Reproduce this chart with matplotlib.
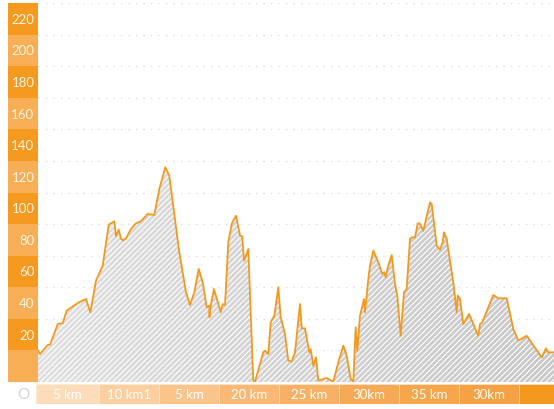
import numpy as np
import matplotlib.pyplot as plt
from matplotlib.colors import LinearSegmentedColormap

# elevation profile (distance units, height)
dist = [0, 2, 9.7, 12, 19.7, 24.7, 28.7, 39.7, 48, 52.3, 58, 64.7, 70.7, 76.3, 78,
        80.7, 83, 85.3, 88, 93, 98, 103, 109.7, 116.3, 121.3, 127.3, 131.3, 141.3,
        148, 152, 156.3, 160.7, 164.7, 168.7, 171.3, 171.5, 172, 176, 182.7, 184.7,
        187, 190.3, 193.7, 198, 202, 204.3, 206, 210.3, 215.3, 217, 225.3, 227,
        230.3, 232.7, 236.3, 240.3, 242.7, 247, 250.3, 253.7, 257, 262, 263.7, 267,
        271.3, 272.7, 275.3, 278, 280.3, 285.3, 288.7, 295.3, 300.3, 305.3, 308.7,
        312.7, 315.3, 317.7, 319.3, 322, 326, 327, 330.3, 332, 335.3, 340.3, 344.3,
        346.3, 347.7, 350.3, 353.7, 357, 359.3, 362.7, 366, 368.7, 372, 373.7, 377,
        379.7, 382, 385.3, 392, 393.7, 398.7, 402, 404.7, 406, 408.7, 415.3, 418.7,
        419.7, 422, 425.3, 431, 440.3, 442, 444.3, 455.3, 460.3, 468.7, 475.3, 480.3,
        488.7, 503.7, 508, 510.3, 516]
height = [19.8, 17.7, 23.4, 23.6, 36.7, 37.2, 45.2, 50.0, 52.6, 44.1, 64.2, 73.7, 99.6,
          101.8, 92.3, 96.5, 90.6, 89.7, 91.0, 96.9, 100.5, 101.8, 106.4, 105.8, 122.2,
          136.0, 130.7, 82.1, 56.8, 48.8, 56.8, 71.6, 63.1, 47.3, 48.3, 41.0, 46.2,
          58.9, 44.1, 49.4, 48.8, 88.5, 100.1, 105.3, 92.7, 92.0, 76.8, 84.2, 0.8, 0.2,
          18.8, 19.8, 17.7, 37.8, 42.0, 60.0, 41.0, 30.4, 13.5, 12.9, 18.8, 49.4, 34.0,
          34.0, 18.8, 20.9, 10.3, 15.6, 0.8, 1.9, 2.5, 0.2, 12.5, 23.0, 16.7, 1.9, 0.2,
          34.6, 19.8, 42.0, 52.6, 44.1, 65.2, 73.7, 83.2, 75.8, 68.4, 69.5, 66.3, 73.7,
          80.4, 62.1, 54.7, 29.3, 56.8, 58.9, 90.6, 91.6, 91.6, 100.5, 100.1, 95.8,
          113.8, 112.7, 86.3, 83.8, 88.5, 94.8, 90.6, 63.1, 44.1, 54.7, 52.6, 36.7,
          43.1, 29.3, 36.7, 37.8, 55.1, 53.0, 53.0, 33.6, 26.2, 29.3, 15.6, 21.3, 18.8,
          18.8]

y_ticks = [0, 20, 40, 60, 80, 100, 120, 140, 160, 180, 200, 220]
seg_labels = ['5 km', '10 km1', '5 km', '20 km', '25 km', '30km', '35 km', '30km', '']
seg_colors = ['#fddcb9', '#fccfa0', '#fbc48a', '#f9b974', '#f8b164', '#f7aa56',
              '#f7a64c', '#f6a244', '#f39a1e']

dark = '#f6991f'
light = '#f8ae55'
orange_line = '#f39a1e'
font = ['Lato', 'DejaVu Sans']

W, H = 554, 410
fig = plt.figure(figsize=(W / 100, H / 100), dpi=100)

def px(l, t, w, h):
    return [l / W, (H - t - h) / H, w / W, h / H]

# main chart
ax = fig.add_axes(px(38, 4, 516, 379))
for v in y_ticks[1:] + [240]:
    ax.axhline(v, color='#d9d9d9', lw=0.9, ls=(0, (1, 5)), zorder=0)

poly = ax.fill_between(dist, height, 0, facecolor='none', lw=0, zorder=1)
grad = LinearSegmentedColormap.from_list('g', ['#e0e0e0', '#d2d2d2', '#c8c8c8'])
img = ax.imshow(np.linspace(0, 1, 256)[None, :], cmap=grad, aspect='auto',
                extent=[0, 516, 0, 240], zorder=1)
img.set_clip_path(poly.get_paths()[0], transform=ax.transData)
plt.rcParams['hatch.linewidth'] = 0.8
ax.fill_between(dist, height, 0, facecolor='none', edgecolor='white',
                hatch='//////', lw=0, zorder=2)
ax.plot(dist, height, color=orange_line, lw=1.3, zorder=3)
ax.set_xlim(0, 516)
ax.set_ylim(0, 240)
ax.axis('off')

# y-axis band
ay = fig.add_axes(px(8, 4, 30, 379))
ay.set_ylim(0, 240)
ay.set_xlim(0, 1)
for i, v in enumerate(y_ticks):
    ay.bar(0.5, 20, bottom=v, width=1, color=dark if i % 2 else light, lw=0)
    if v > 0:
        ay.text(0.88, v + 10, str(v), ha='right', va='center', color='#fff4e6',
                fontsize=9.5, family=font, zorder=5)
ay.axis('off')

# x-axis band
ab = fig.add_axes(px(36, 385, 518, 20))
ab.set_xlim(-2, 516)
ab.set_ylim(0, 1)
edges = [-2] + [61 + 60 * i for i in range(8)] + [516]
for i, lab in enumerate(seg_labels):
    ab.bar(edges[i], 1, width=edges[i + 1] - edges[i], align='edge',
           color=seg_colors[i], edgecolor='#fde9d2', lw=0.4)
    if lab:
        ab.text((edges[i] + edges[i + 1]) / 2, 0.5, lab, ha='center', va='center',
                color='white', fontsize=9.5, family=font, zorder=5)
ab.axis('off')

fig.text(23 / W, 1 - 395 / H, 'O', ha='center', va='center', color='#d5d5d5',
         fontsize=11, family=font)

fig.savefig('out.png', dpi=100)
